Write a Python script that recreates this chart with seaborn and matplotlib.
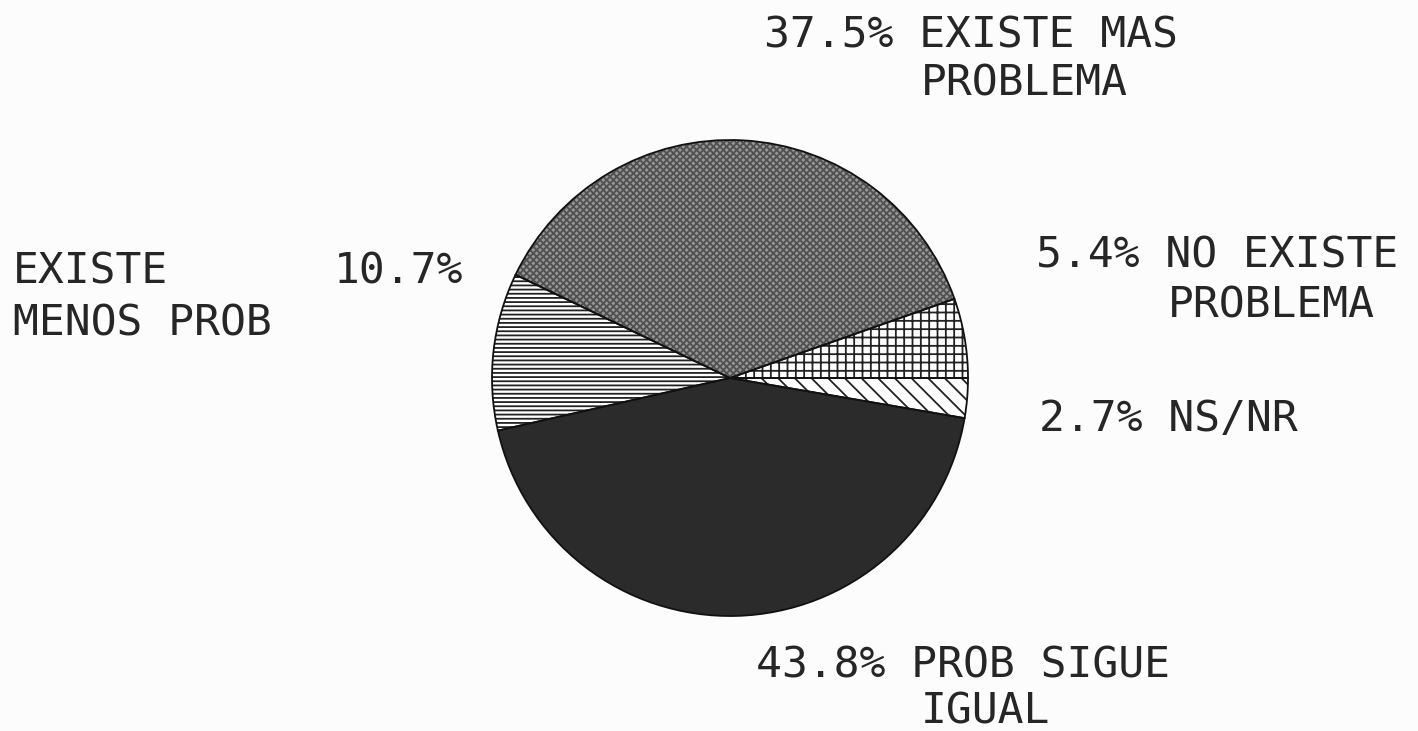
import seaborn as sns
import matplotlib.pyplot as plt

# survey answers, in the order the slices are drawn (counter-clockwise from 0 deg)
categorias = ['NO EXISTE PROBLEMA', 'EXISTE MAS PROBLEMA', 'EXISTE MENOS PROB',
              'PROB SIGUE IGUAL', 'NS/NR']
porcentajes = [5.4, 37.5, 10.7, 43.8, 2.7]
rellenos = ['#ffffff', '#969696', '#ffffff', '#2b2b2b', '#ffffff']
tramas = ['++', 'xxxxx', '----', '', '\\\\']
color_trama = ['#222222', '#505050', '#222222', '#2b2b2b', '#222222']

sns.set_style('white')
plt.rcParams['font.family'] = ['DejaVu Sans Mono']
plt.rcParams['hatch.linewidth'] = 1.3

W, H = 1418, 731
fig = plt.figure(figsize=(W / 100, H / 100), dpi=100)
fig.patch.set_facecolor('#fbfcfb')
ax = fig.add_axes([0, 0, 1, 1])
ax.set_xlim(0, W)
ax.set_ylim(0, H)
ax.axis('off')

centro = (730, H - 378)
radio = 238

# filled / hatched wedges
cunas, _ = ax.pie(porcentajes, startangle=0, counterclock=True,
                  center=centro, radius=radio, colors=rellenos,
                  wedgeprops=dict(linewidth=0))
for c, h, hc in zip(cunas, tramas, color_trama):
    c.set_hatch(h)
    c.set_edgecolor(hc)
    c.set_linewidth(0)

# black outlines on top
ax.pie(porcentajes, startangle=0, counterclock=True, center=centro,
       radius=radio, colors=['none'] * len(porcentajes),
       wedgeprops=dict(linewidth=1.3, edgecolor='#111111', fill=False))
ax.set_xlim(0, W)
ax.set_ylim(0, H)
ax.set_aspect('equal')

p = {c: f'{v}%' for c, v in zip(categorias, porcentajes)}
txt = dict(fontsize=31, color='#262626', va='baseline', ha='left')


def etiqueta(x, y, s):
    ax.text(x - 4, H - y, s, **txt)


etiqueta(768, 47, p['EXISTE MAS PROBLEMA'] + ' EXISTE MAS')
etiqueta(925, 96, 'PROBLEMA')
etiqueta(17, 283, 'EXISTE')
etiqueta(338, 283, p['EXISTE MENOS PROB'])
etiqueta(17, 335, 'MENOS PROB')
etiqueta(1040, 267, p['NO EXISTE PROBLEMA'] + ' NO EXISTE')
etiqueta(1172, 317, 'PROBLEMA')
etiqueta(1043, 431, p['NS/NR'] + ' NS/NR')
etiqueta(760, 677, p['PROB SIGUE IGUAL'] + ' PROB SIGUE')
etiqueta(925, 723, 'IGUAL')

fig.savefig('out.png', dpi=100, facecolor=fig.get_facecolor())
